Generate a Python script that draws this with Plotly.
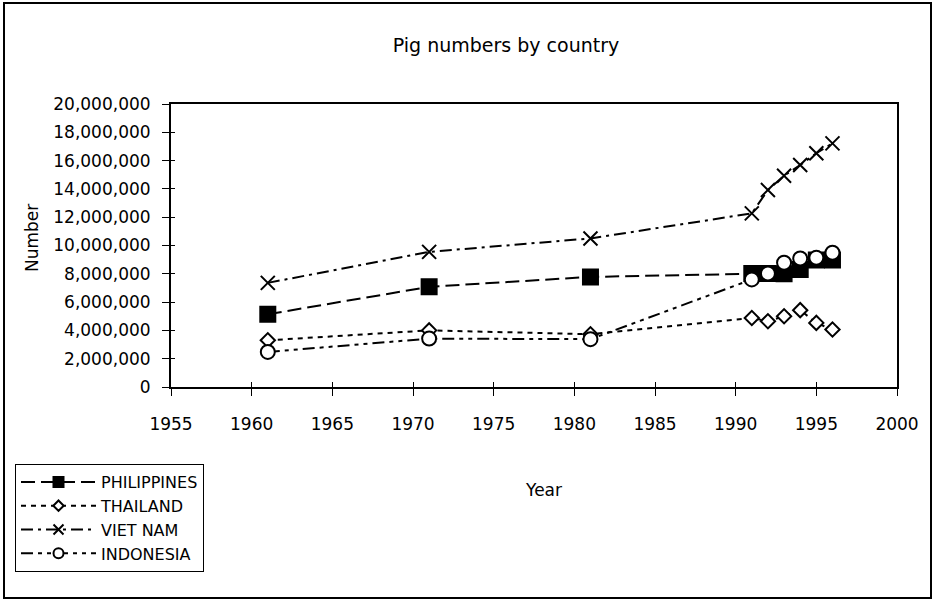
import plotly.graph_objects as go

# Survey years and pig head counts per country
years = [1961, 1971, 1981, 1991, 1992, 1993, 1994, 1995, 1996]
philippines = [5140000, 7080000, 7780000, 8020000, 8020000, 8000000, 8310000, 8970000, 8970000]
thailand = [3300000, 4000000, 3730000, 4880000, 4650000, 5000000, 5430000, 4530000, 4060000]
viet_nam = [7360000, 9550000, 10500000, 12270000, 13920000, 14930000, 15690000, 16520000, 17220000]
indonesia = [2480000, 3420000, 3380000, 7600000, 8020000, 8780000, 9080000, 9130000, 9490000]

x_ticks = [1955, 1960, 1965, 1970, 1975, 1980, 1985, 1990, 1995, 2000]
y_ticks = list(range(0, 20000001, 2000000))

FONT = "DejaVu Sans"
W, H = 935, 602
L, R, T, B = 171, 38, 104, 215
PW, PH = W - L - R, H - T - B


def px_to_paper_x(px):
    return (px - L) / PW


def px_to_paper_y(py):
    return (H - B - py) / PH


# name, values, marker symbol, plot size, legend size, fill, dash pattern
series = [
    ("PHILIPPINES", philippines, "square", 15, 10, "black", "14px,6px"),
    ("THAILAND", thailand, "diamond", 11, 8, "white", "5px,5px"),
    ("VIET NAM", viet_nam, "x-thin", 14, 10, "black", "12px,5px,3px,5px"),
    ("INDONESIA", indonesia, "circle", 14, 10, "white", "12px,5px,4px,5px,4px,5px"),
]

fig = go.Figure()
for name, vals, symbol, size, leg_size, fill, dash in series:
    fig.add_trace(go.Scatter(
        x=years, y=vals, name=name, mode="lines+markers", legendgroup=name,
        showlegend=False,
        line=dict(color="black", width=2, dash=dash),
        marker=dict(symbol=symbol, size=size, color=fill,
                    line=dict(color="black", width=2)),
    ))
# legend entries with smaller key markers
for name, vals, symbol, size, leg_size, fill, dash in series:
    fig.add_trace(go.Scatter(
        x=[None], y=[None], name=name, mode="lines+markers", legendgroup=name,
        line=dict(color="black", width=2, dash=dash),
        marker=dict(symbol=symbol, size=leg_size, color=fill,
                    line=dict(color="black", width=2)),
    ))

# helper trace so the overlay axes (inner tick marks) get drawn
fig.add_trace(go.Scatter(x=[None], y=[None], xaxis="x2", yaxis="y2",
                         showlegend=False, hoverinfo="skip"))

axis_font = dict(family=FONT, size=17, color="black")

fig.update_layout(
    width=W, height=H,
    margin=dict(l=L, r=R, t=T, b=B),
    paper_bgcolor="white", plot_bgcolor="white",
    font=dict(family=FONT, color="black"),
    title=dict(text="Pig numbers by country", font=dict(family=FONT, size=19, color="black"),
               x=px_to_paper_x(506), xref="paper", xanchor="center",
               y=1 - 45 / H, yref="container", yanchor="middle"),
    xaxis=dict(range=[1955, 2000], tickvals=x_ticks, ticks="outside", ticklen=7,
               tickwidth=1, tickcolor="black", showline=True, linecolor="black",
               linewidth=2, mirror=True, showgrid=False, zeroline=False,
               tickfont=axis_font, ticklabelstandoff=14),
    yaxis=dict(range=[0, 20000000], tickvals=y_ticks, tickformat=",d", ticks="outside",
               ticklen=7, tickwidth=1, tickcolor="black", showline=True,
               linecolor="black", linewidth=2, mirror=True, showgrid=False,
               zeroline=False, tickfont=axis_font, ticklabelstandoff=8),
    xaxis2=dict(overlaying="x", anchor="y", range=[1955, 2000], tickvals=x_ticks,
                ticks="inside", ticklen=5, tickwidth=1, tickcolor="black",
                showticklabels=False, showline=False, showgrid=False, zeroline=False),
    yaxis2=dict(overlaying="y", anchor="x", side="left", range=[0, 20000000],
                tickvals=y_ticks, ticks="inside", ticklen=4, tickwidth=1,
                tickcolor="black", showticklabels=False, showline=False,
                showgrid=False, zeroline=False),
    legend=dict(x=px_to_paper_x(15), y=px_to_paper_y(464), xanchor="left", yanchor="top",
                bordercolor="black", borderwidth=1, bgcolor="white",
                font=dict(family=FONT, size=16, color="black"),
                itemwidth=75, itemsizing="trace", tracegroupgap=0),
    showlegend=True,
    annotations=[
        dict(text="Year", x=px_to_paper_x(543), y=px_to_paper_y(490), xref="paper",
             yref="paper", showarrow=False, xanchor="center", yanchor="middle",
             font=dict(family=FONT, size=17, color="black")),
        dict(text="Number", x=px_to_paper_x(32), y=px_to_paper_y(238), xref="paper",
             yref="paper", showarrow=False, xanchor="center", yanchor="middle",
             textangle=-90, font=dict(family=FONT, size=17, color="black")),
    ],
    shapes=[
        dict(type="rect", xref="paper", yref="paper",
             x0=px_to_paper_x(4), x1=px_to_paper_x(931),
             y0=px_to_paper_y(598), y1=px_to_paper_y(3),
             line=dict(color="black", width=2), fillcolor="rgba(0,0,0,0)", layer="below"),
    ],
)

fig.write_html("out.html")
